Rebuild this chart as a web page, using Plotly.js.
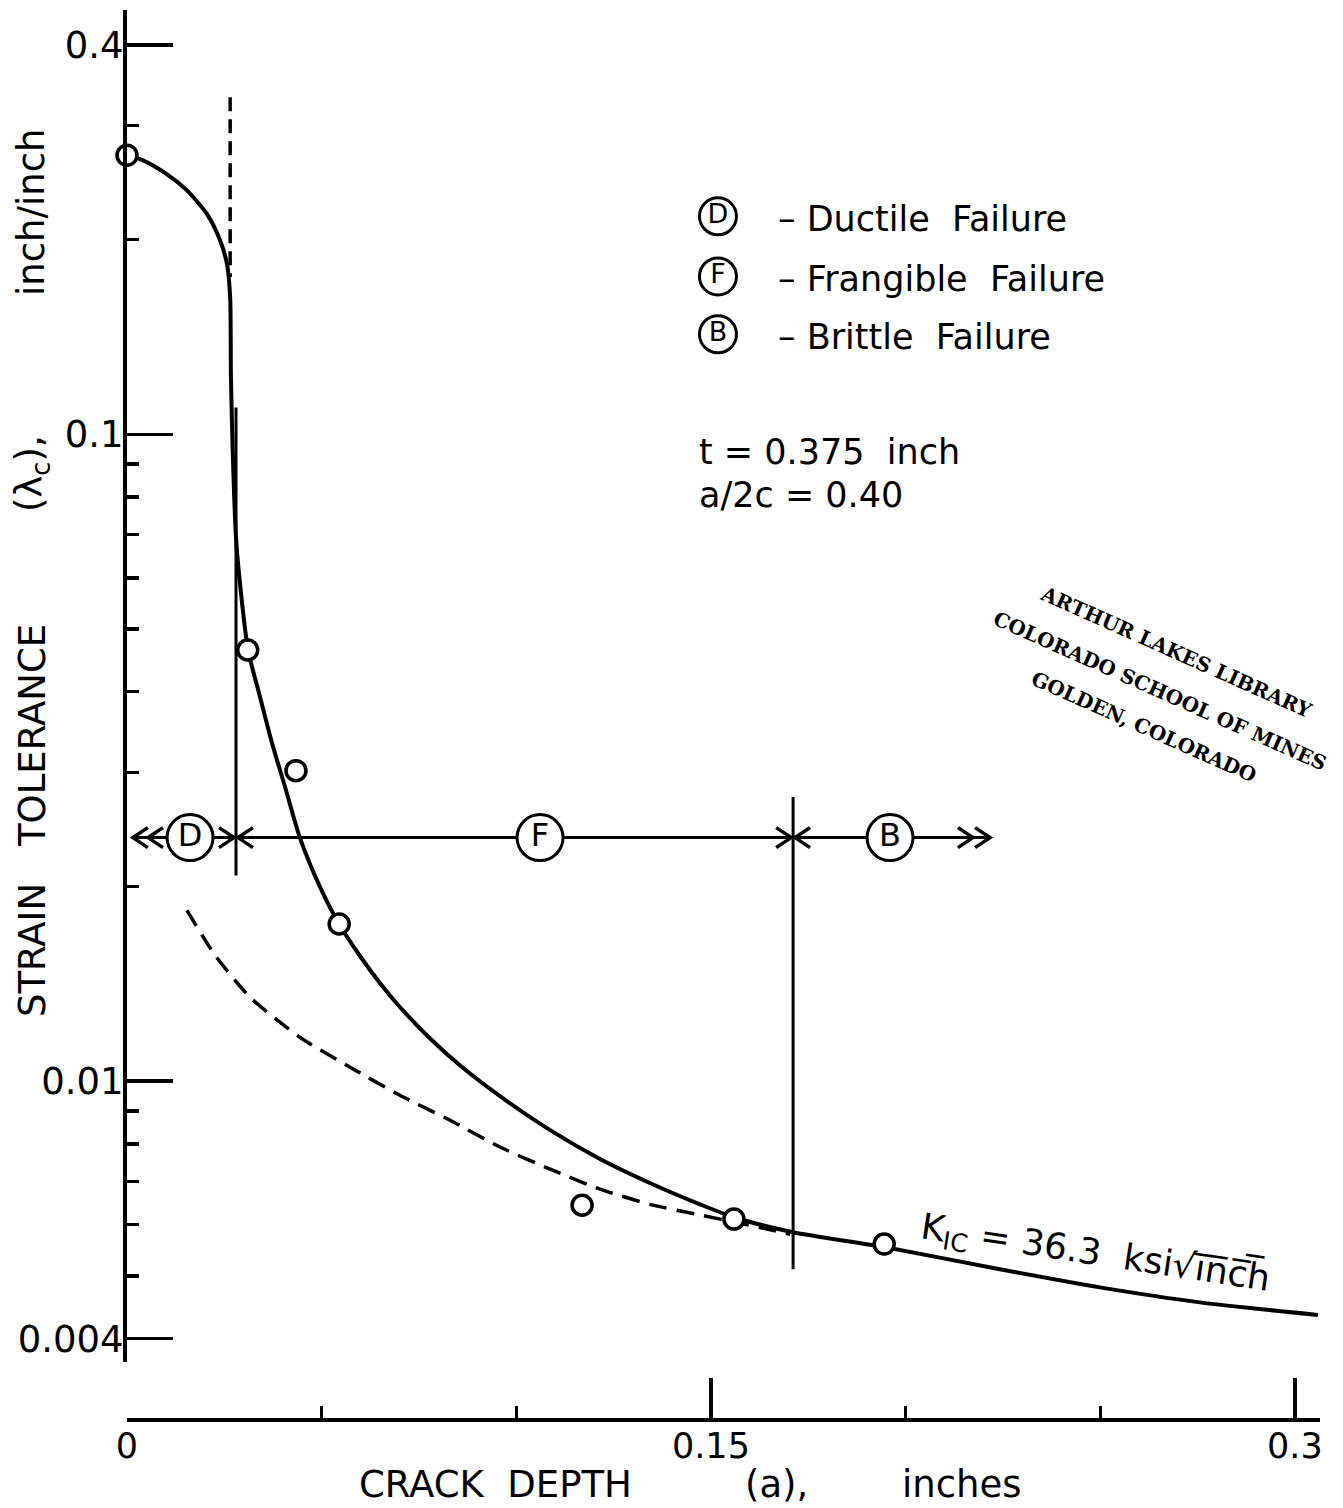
<!DOCTYPE html>
<html><head><meta charset="utf-8">
<script src="https://cdn.plot.ly/plotly-3.0.1.min.js"></script>
<style>html,body{margin:0;padding:0;background:#fff;} #chart{width:1343px;height:1508px;}</style>
</head><body><div id="chart"></div>
<script>
// ---- data ----
const solidDepth = [0, 0.0041, 0.0103, 0.0154, 0.0206, 0.0239, 0.0257, 0.0265, 0.0267, 0.0272, 0.0280, 0.0290, 0.0311, 0.0342, 0.0372, 0.0406, 0.0444, 0.0496, 0.0545, 0.0599, 0.0650, 0.0701, 0.0778, 0.0855, 0.0958, 0.1087, 0.1215, 0.1343, 0.1472, 0.1559, 0.1711, 0.1945, 0.2242, 0.2499, 0.2756, 0.3059];
const solidStrain = [0.270, 0.2652, 0.2523, 0.2383, 0.2188, 0.1995, 0.1832, 0.1628, 0.1225, 0.0921, 0.0693, 0.0590, 0.0464, 0.0392, 0.0334, 0.0285, 0.0238, 0.01995, 0.01748, 0.01560, 0.01417, 0.01302, 0.01165, 0.01058, 0.00948, 0.00840, 0.00758, 0.00696, 0.00645, 0.00616, 0.00584, 0.00554, 0.00512, 0.00480, 0.00455, 0.00435];

const dashedDepth = [0.0154, 0.0226, 0.0316, 0.0444, 0.0573, 0.0701, 0.0830, 0.0958, 0.1087, 0.1215, 0.1343, 0.1472, 0.1575, 0.1703];
const dashedStrain = [0.01837, 0.01566, 0.01348, 0.01169, 0.01051, 0.00951, 0.00870, 0.00791, 0.00731, 0.00681, 0.00645, 0.00621, 0.00603, 0.00580];

const testDepth = [0.0, 0.0310, 0.0434, 0.0545, 0.1169, 0.1559, 0.1945];
const testStrain = [0.270, 0.0464, 0.0302, 0.0175, 0.00643, 0.00612, 0.00560];

const dashedLimitDepth = [0.0265, 0.0265];
const dashedLimitStrain = [0.332, 0.175];

const boundaryDepth = [0.0280, 0.0280, null, 0.1711, 0.1711];
const boundaryStrain = [0.110, 0.0208, null, 0.0275, 0.00512];

const regionLineDepth = [0.0015, 0.2217];
const regionLineStrain = 0.0238;
const regionLetters = ['D', 'F', 'B'];
const regionDepth = [0.0162, 0.1061, 0.1960];

// arrow chevrons on the region line: tip position and direction (+1 right, -1 left)
const chevronDepth = [0.0015, 0.0054, 0.0275, 0.0285, 0.1706, 0.1716, 0.2173, 0.2217];
const chevronDir = [-1, -1, 1, -1, 1, -1, 1, 1];

const legendLetters = ['D', 'F', 'B'];
const legendLabels = ['Ductile  Failure', 'Frangible  Failure', 'Brittle  Failure'];
const legendDepth = 0.1518;
const legendStrain = [0.2173, 0.1754, 0.1428];

const xTickVals = [0, 0.15, 0.3];
const xTickText = ['0', '0.15', '0.3'];
const xMinorVals = [0.05, 0.1, 0.2, 0.25];
const yTickVals = [0.004, 0.01, 0.1, 0.4];
const yTickText = ['0.004', '0.01', '0.1', '0.4'];
const yMinorVals = [0.005, 0.006, 0.007, 0.008, 0.009, 0.02, 0.03, 0.04, 0.05, 0.06, 0.07, 0.08, 0.09, 0.2, 0.3];

// ---- drawing ----
const FONT = 'DejaVu Sans';
const NB = '\u00A0';

const traces = [
  { x: dashedDepth, y: dashedStrain, mode: 'lines', line: { color: 'black', width: 3.5, dash: '18px,10px', shape: 'spline', smoothing: 0.6 }, hoverinfo: 'skip' },
  { x: dashedLimitDepth, y: dashedLimitStrain, mode: 'lines', line: { color: 'black', width: 3.5, dash: '14px,8px' }, hoverinfo: 'skip' },
  { x: boundaryDepth, y: boundaryStrain, mode: 'lines', line: { color: 'black', width: 3 }, hoverinfo: 'skip' },
  { x: regionLineDepth, y: [regionLineStrain, regionLineStrain], mode: 'lines', line: { color: 'black', width: 3 }, hoverinfo: 'skip' },
  { x: solidDepth, y: solidStrain, mode: 'lines', line: { color: 'black', width: 4, shape: 'spline', smoothing: 0.7 }, hoverinfo: 'skip' },
  { x: testDepth, y: testStrain, mode: 'markers', marker: { symbol: 'circle', size: 20, color: 'white', line: { color: 'black', width: 3.5 } }, cliponaxis: false, hoverinfo: 'skip' },
  { x: regionDepth, y: regionDepth.map(() => regionLineStrain), mode: 'markers+text', text: regionLetters, textposition: 'middle center',
    textfont: { family: FONT, size: 32, color: 'black' },
    marker: { symbol: 'circle', size: 46, color: 'white', line: { color: 'black', width: 3 } }, hoverinfo: 'skip' },
  { x: legendStrain.map(() => legendDepth), y: legendStrain, mode: 'markers+text', text: legendLetters, textposition: 'middle center',
    textfont: { family: FONT, size: 27, color: 'black' },
    marker: { symbol: 'circle', size: 37, color: 'white', line: { color: 'black', width: 3 } }, hoverinfo: 'skip' }
];

const shapes = chevronDepth.map((d, i) => ({
  type: 'path', xref: 'x', yref: 'y', xsizemode: 'pixel', ysizemode: 'pixel',
  xanchor: d, yanchor: regionLineStrain,
  path: chevronDir[i] > 0 ? 'M-15,10L0,0L-15,-10' : 'M15,10L0,0L15,-10',
  line: { color: 'black', width: 3.5 }
}));

// plot area: x 127..1320 px, y 10..1420 px
const W = 1343, H = 1508, L = 127, R = 23, T = 10, B = 88;
const pw = W - L - R, ph = H - T - B;
const px = v => (v - L) / pw;
const py = v => (H - B - v) / ph;

const ann = [];
function txt(text, x, y, opts) {
  ann.push(Object.assign({ text: text, xref: 'paper', yref: 'paper', x: px(x), y: py(y), showarrow: false,
    font: { family: FONT, size: 34, color: 'black' }, xanchor: 'center', yanchor: 'middle' }, opts || {}));
}
// legend
legendLabels.forEach((lab, i) => {
  txt('\u2013' + NB + lab.replace(/ /g, NB), 776, [219, 279, 337][i], { xanchor: 'left', font: { family: FONT, size: 35, color: 'black' } });
});
// parameters
txt('t' + NB + '=' + NB + '0.375' + NB + NB + 'inch', 697, 452, { xanchor: 'left', font: { family: FONT, size: 35, color: 'black' } });
txt('a/2c' + NB + '=' + NB + '0.40', 697, 495, { xanchor: 'left', font: { family: FONT, size: 35, color: 'black' } });
// K_IC label
txt('K<sub>IC</sub> = 36.3' + NB + NB + 'ksi\u221Ai\u0305n\u0305c\u0305h\u0305', 1095, 1254, { textangle: 8.6, font: { family: FONT, size: 36, color: 'black' } });
// library stamp
const stampFont = { family: 'DejaVu Serif', size: 20, color: 'black', weight: 'bold' };
txt('ARTHUR LAKES LIBRARY', 1176, 652, { textangle: 24, font: stampFont });
txt('COLORADO SCHOOL OF MINES', 1160, 691, { textangle: 24, font: stampFont });
txt('GOLDEN, COLORADO', 1144, 727, { textangle: 24, font: stampFont });
// axis titles
const tf = { family: FONT, size: 37, color: 'black' };
txt('STRAIN', 32, 950, { textangle: -90, font: tf });
txt('TOLERANCE', 32, 736, { textangle: -90, font: tf });
txt('(\u03BB<sub>c</sub>),', 32, 474, { textangle: -90, font: tf });
txt('inch/inch', 32, 212, { textangle: -90, font: tf });
txt('CRACK' + NB + NB + 'DEPTH', 496, 1484, { font: tf });
txt('(a),', 776, 1484, { font: tf });
txt('inches', 962, 1484, { font: tf });

const layout = {
  width: W, height: H,
  margin: { l: L, r: R, t: T, b: B, pad: 0 },
  paper_bgcolor: 'white', plot_bgcolor: 'white',
  showlegend: false,
  font: { family: FONT, color: 'black', size: 36 },
  xaxis: {
    range: [0, pw / 3893], anchor: 'free', position: 0,
    showline: true, linewidth: 4, linecolor: 'black', mirror: false,
    showgrid: false, zeroline: false,
    tickmode: 'array', tickvals: xTickVals, ticktext: xTickText,
    ticks: 'inside', ticklen: 40, tickwidth: 3.5, tickcolor: 'black',
    ticklabelstandoff: -6,
    tickfont: { family: FONT, size: 35, color: 'black' },
    minor: { tickmode: 'array', tickvals: xMinorVals, ticks: 'inside', ticklen: 12, tickwidth: 3.5, tickcolor: 'black', showgrid: false }
  },
  yaxis: {
    type: 'log', range: [Math.log10(0.00368), -0.344], domain: [(1420 - 1362) / ph, 1],
    showline: true, linewidth: 4, linecolor: 'black',
    showgrid: false, zeroline: false,
    tickmode: 'array', tickvals: yTickVals, ticktext: yTickText,
    ticks: 'inside', ticklen: 46, tickwidth: 3.5, tickcolor: 'black',
    ticklabelstandoff: -8,
    tickfont: { family: FONT, size: 37, color: 'black' },
    minor: { tickmode: 'array', tickvals: yMinorVals, ticks: 'inside', ticklen: 12, tickwidth: 3.5, tickcolor: 'black', showgrid: false }
  },
  shapes: shapes,
  annotations: ann
};

Plotly.newPlot('chart', traces, layout, { staticPlot: true, displayModeBar: false });
</script>
</body></html>
